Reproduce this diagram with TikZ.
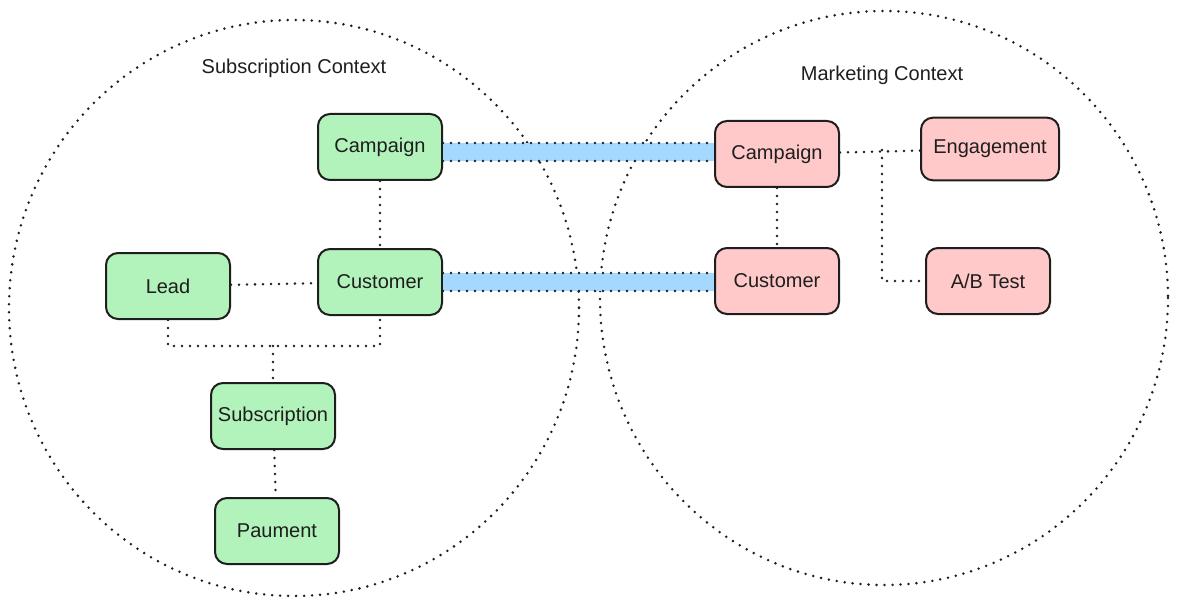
\documentclass[tikz,border=0pt]{standalone}
\usepackage{fontspec}
\setmainfont{Liberation Sans}
\usetikzlibrary{calc}
\definecolor{inkblack}{HTML}{1E1E1E}
\definecolor{subgreen}{HTML}{B2F2BB}
\definecolor{mktred}{HTML}{FFC9C9}
\definecolor{bandblue}{HTML}{A5D8FF}
\tikzstyle{sbox} = [rectangle, rounded corners=9pt, minimum width=93pt, minimum height=49.5pt, inner sep=0pt, text centered, draw=inkblack, line width=1.5pt, fill=subgreen, text=inkblack, font=\fontsize{15}{18}\selectfont]
\tikzstyle{mbox} = [sbox, fill=mktred]
\tikzstyle{dotline} = [draw=inkblack, line width=2.1pt, line cap=round, dash pattern=on 0pt off 6pt]
\tikzstyle{band} = [draw=bandblue, line width=13.5pt]
\tikzstyle{ctx} = [text=inkblack, font=\fontsize{15}{18}\selectfont]

\begin{document}
\begin{tikzpicture}[x=0.75pt, y=-0.75pt]
	\useasboundingbox (0,0) rectangle (1178,606);
	% bounded contexts
	\draw [dotline] (294,308) ellipse [x radius=285, y radius=288];
	\draw [dotline] (884,298) ellipse [x radius=284, y radius=287];
	\node (SubCtx) [ctx] at (294,68) {Subscription Context};
	\node (MktCtx) [ctx] at (882,75) {Marketing Context};
	% subscription side
	\node (SCamp) [sbox] at (380,147) {Campaign};
	\node (SCust) [sbox] at (380,282) {Customer};
	\node (Lead) [sbox] at (168,286) {Lead};
	\node (Subs) [sbox] at (273,416) {Subscription};
	\node (Paum) [sbox] at (277,531) {Paument};
	% marketing side
	\node (MCamp) [mbox] at (777,154) {Campaign};
	\node (MCust) [mbox] at (777,281) {Customer};
	\node (Eng) [mbox, minimum width=103.5pt, minimum height=47pt] at (990,149) {Engagement};
	\node (AB) [mbox] at (988,281) {A/B Test};
	% shared kernel bands
	\coordinate (BandA) at ([yshift=-3.75pt]SCamp.east);
	\draw [band] (BandA) -- (BandA -| MCamp.west);
	\draw [dotline] ([yshift=6.75pt]BandA) -- ([yshift=6.75pt]BandA -| MCamp.west);
	\draw [dotline] ([yshift=-6.75pt]BandA) -- ([yshift=-6.75pt]BandA -| MCamp.west);
	\draw [band] (SCust.east) -- (SCust.east -| MCust.west);
	\draw [dotline] ([yshift=6.75pt]SCust.east) -- ([yshift=6.75pt]SCust.east -| MCust.west);
	\draw [dotline] ([yshift=-6.75pt]SCust.east) -- ([yshift=-6.75pt]SCust.east -| MCust.west);
	% links
	\coordinate (Join) at (273,346);
	\coordinate (Fork) at (882,150);
	\draw [dotline] (SCamp) -- (SCust);
	\draw [dotline] (Lead) -- (SCust);
	\draw [dotline] (Lead.south) |- (Join) -| (SCust.south);
	\draw [dotline] (Join) -- (Subs);
	\draw [dotline] (Subs) -- (Paum);
	\draw [dotline] (MCamp) -- (MCust);
	\draw [dotline] (MCamp) -- (Eng);
	\draw [dotline] (Fork) |- (AB.west);
\end{tikzpicture}
\end{document}
